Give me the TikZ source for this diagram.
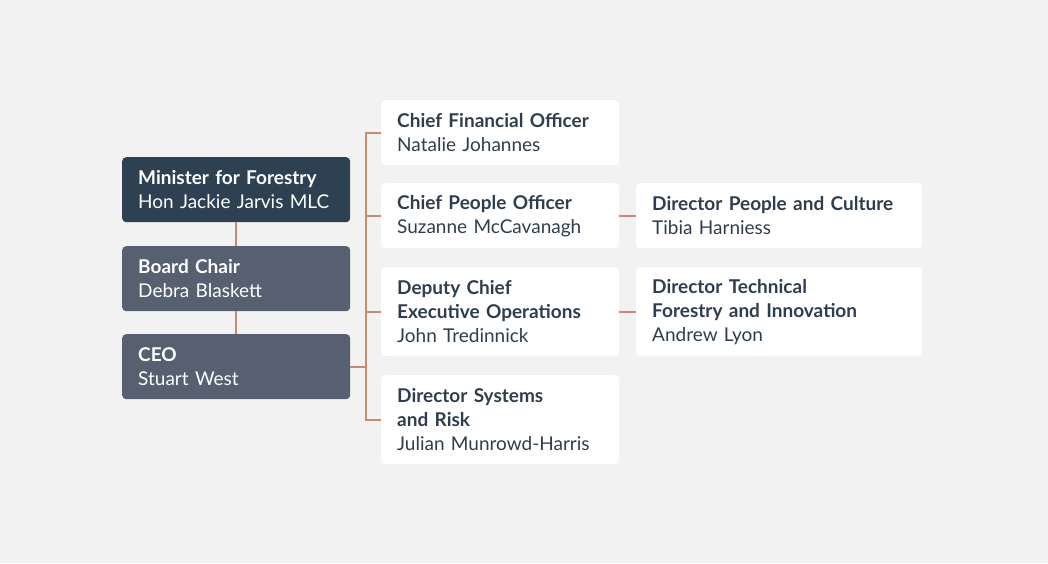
\documentclass[tikz,border=0pt]{standalone}
\usepackage{fontspec}
\setmainfont{Lato}
\usetikzlibrary{positioning}

\definecolor{bgGray}{HTML}{F2F2F2}
\definecolor{navyBox}{HTML}{2E4152}
\definecolor{slateBox}{HTML}{566070}
\definecolor{copperLine}{HTML}{C98A70}
\definecolor{inkText}{HTML}{2E3E4E}

\tikzset{
  orgbox/.style={rectangle, rounded corners=4pt, anchor=north west, align=left,
    inner xsep=16pt, inner ysep=0pt, font=\fontsize{19}{24}\selectfont},
  darkbox/.style={orgbox, fill=navyBox, text=white, text width=196pt, minimum height=65pt},
  midbox/.style={orgbox, fill=slateBox, text=white, text width=196pt, minimum height=65pt},
  whitebox/.style={orgbox, fill=white, text=inkText, text width=206pt, minimum height=65pt},
  widebox/.style={orgbox, fill=white, text=inkText, text width=254pt, minimum height=65pt},
  link/.style={draw=copperLine, line width=1.8pt}
}

\begin{document}
\begin{tikzpicture}[x=1pt, y=-1pt]
    \fill[bgGray] (0,0) rectangle (1048,563);
    \useasboundingbox (0,0) rectangle (1048,563);

    %---------------------------------------------------------------%
    \node[darkbox] (minister) at (122,157) {\textbf{Minister for Forestry}\\Hon Jackie Jarvis MLC};
    \node[midbox]  (chair)    at (122,246) {\textbf{Board Chair}\\Debra Blaskett};
    \node[midbox]  (ceo)      at (122,334) {\textbf{CEO}\\Stuart West};

    %---------------------------------------------------------------%
    \node[whitebox] (cfo)  at (381,100) {\textbf{Chief Financial Officer}\\Natalie Johannes};
    \node[whitebox] (cpo)  at (381,183) {\textbf{Chief People Officer}\\Suzanne McCavanagh};
    \node[whitebox, minimum height=89pt] (dceo) at (381,267) {\textbf{Deputy Chief}\\\textbf{Executive Operations}\\John Tredinnick};
    \node[whitebox, minimum height=89pt] (dsr)  at (381,375) {\textbf{Director Systems}\\\textbf{and Risk}\\Julian Munrowd-Harris};

    %---------------------------------------------------------------%
    \node[widebox] (dpc)  at (636,183) {\textbf{Director People and Culture}\\Tibia Harniess};
    \node[widebox, minimum height=89pt] (dtfi) at (636,267) {\textbf{Director Technical}\\\textbf{Forestry and Innovation}\\Andrew Lyon};

    %---------------------------------------------------------------%
    \coordinate (bus) at (366,0);
    \draw[link] (minister.south) -- (chair.north);
    \draw[link] (chair.south) -- (ceo.north);
    \draw[link] (cfo.west) -- (cfo.west -| bus) -- (dsr.west -| bus) -- (dsr.west);
    \draw[link] (ceo.east) -- (ceo.east -| bus);
    \draw[link] (cpo.west) -- (cpo.west -| bus);
    \draw[link] (dceo.west) -- (dceo.west -| bus);
    \draw[link] (cpo.east) -- (dpc.west);
    \draw[link] (dceo.east) -- (dtfi.west);
\end{tikzpicture}
\end{document}
